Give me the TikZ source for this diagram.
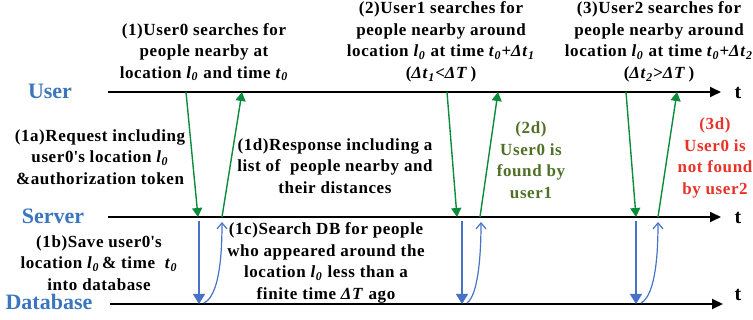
\documentclass[tikz,border=0pt]{standalone}
\usepackage{fontspec}
\setmainfont{Liberation Serif}
\newfontfamily\notefont[LetterSpace=3.5]{Liberation Serif}
\usetikzlibrary{arrows.meta}

\definecolor{laneblue}{RGB}{58,118,190}
\definecolor{msggreen}{RGB}{10,140,60}
\definecolor{dbblue}{RGB}{70,115,200}
\definecolor{foundgreen}{RGB}{80,112,40}
\definecolor{missred}{RGB}{232,50,40}

% italic symbol with italic subscript, e.g. l_0, t_0
\newcommand{\isym}[2]{\textit{#1}\textsubscript{\textit{#2}}}

\tikzset{
  lane/.style={font=\bfseries\fontsize{22}{26}\selectfont, text=laneblue, inner sep=0pt},
  tlabel/.style={font=\bfseries\fontsize{20}{24}\selectfont, inner sep=0pt},
  note/.style={font=\notefont\bfseries\fontsize{17}{21.5}\selectfont, align=center, inner sep=0pt},
  timeline/.style={line width=1.8pt, -{Triangle[length=11pt,width=10pt]}},
  request/.style={draw=msggreen, line width=1.4pt, -{Triangle[length=9pt,width=10pt]}},
  dbwrite/.style={draw=dbblue, line width=1.4pt, -{Triangle[length=10pt,width=12pt]}},
  dbread/.style={draw=dbblue, line width=1.2pt, -{Straight Barb[length=6pt,width=10pt]}},
}

\begin{document}
\begin{tikzpicture}[x=1pt,y=-1pt]
\useasboundingbox (0,0) rectangle (753,320);

% lane names
\node[lane] (user) at (50,91) {User};
\node[lane] (server) at (53,216) {Server};
\node[lane] (database) at (49,302) {Database};

% time axes
\coordinate (uL) at (108,92);  \coordinate (uR) at (721,92);
\coordinate (sL) at (108,217); \coordinate (sR) at (721,217);
\coordinate (dL) at (110,304); \coordinate (dR) at (723,304);
\draw[timeline] (uL) -- (uR);
\draw[timeline] (sL) -- (sR);
\draw[timeline] (dL) -- (dR);
\node[tlabel] (tu) at (738,93) {t};
\node[tlabel] (ts) at (738,218) {t};
\node[tlabel] (td) at (738,295) {t};

% user <-> server messages
\foreach \n/\a/\b/\c/\d in {1/186/198/222/242, 2/447/457/480/498, 3/626/636/658/677}{
  \coordinate (q\n u) at (\a,92);
  \coordinate (q\n s) at (\b,217);
  \coordinate (r\n s) at (\c,217);
  \coordinate (r\n u) at (\d,92);
  \draw[request] (q\n u) -- (q\n s);
  \draw[request] (r\n s) -- (r\n u);
}

% server <-> database accesses
\foreach \n/\x/\y in {1/199/222, 2/462/481, 3/636/658}{
  \coordinate (w\n s) at (\x,221);
  \coordinate (w\n d) at (\x,304);
  \coordinate (e\n d) at (\x+5,303);
  \coordinate (e\n s) at (\y,222);
  \draw[dbwrite] (w\n s) -- (w\n d);
  \draw[dbread] (e\n d) .. controls (\y-4,296) and (\y,262) .. (e\n s);
}

% step descriptions
\node[note] (s1) at (204,52) {(1)User0 searches for\\people nearby at\\location \isym{l}{0} and time \isym{t}{0}};
\node[note] (s2) at (441,42) {(2)User1 searches for\\people nearby around\\location \isym{l}{0} at time \isym{t}{0}+\isym{Δt}{1}\\(\isym{Δt}{1}<\textit{ΔT}\,)};
\node[note] (s3) at (659,42) {(3)User2 searches for\\people nearby around\\location \isym{l}{0} at time \isym{t}{0}+\isym{Δt}{2}\\(\isym{Δt}{2}>\textit{ΔT}\,)};
\node[note] (s1a) at (100,157) {(1a)Request including\\user0\textquotesingle s location \isym{l}{0}\\\&authorization token};
\node[note] (s1d) at (335,166) {(1d)Response including a\\list of~ people nearby and\\their distances};
\node[note, text=foundgreen] (s2d) at (531,160) {(2d)\\User0 is\\found by\\user1};
\node[note, text=missred] (s3d) at (715,158) {(3d)\\User0 is\\not found\\by user2};
\node[note] (s1b) at (99,263) {(1b)Save user0\textquotesingle s\\location \isym{l}{0}\,\& time~ \isym{t}{0}\\into database};
\node[note] (s1c) at (326,263) {(1c)Search DB for people\\who appeared around the\\location \isym{l}{0} less than a\\finite time \textit{ΔT} ago};
\end{tikzpicture}
\end{document}
